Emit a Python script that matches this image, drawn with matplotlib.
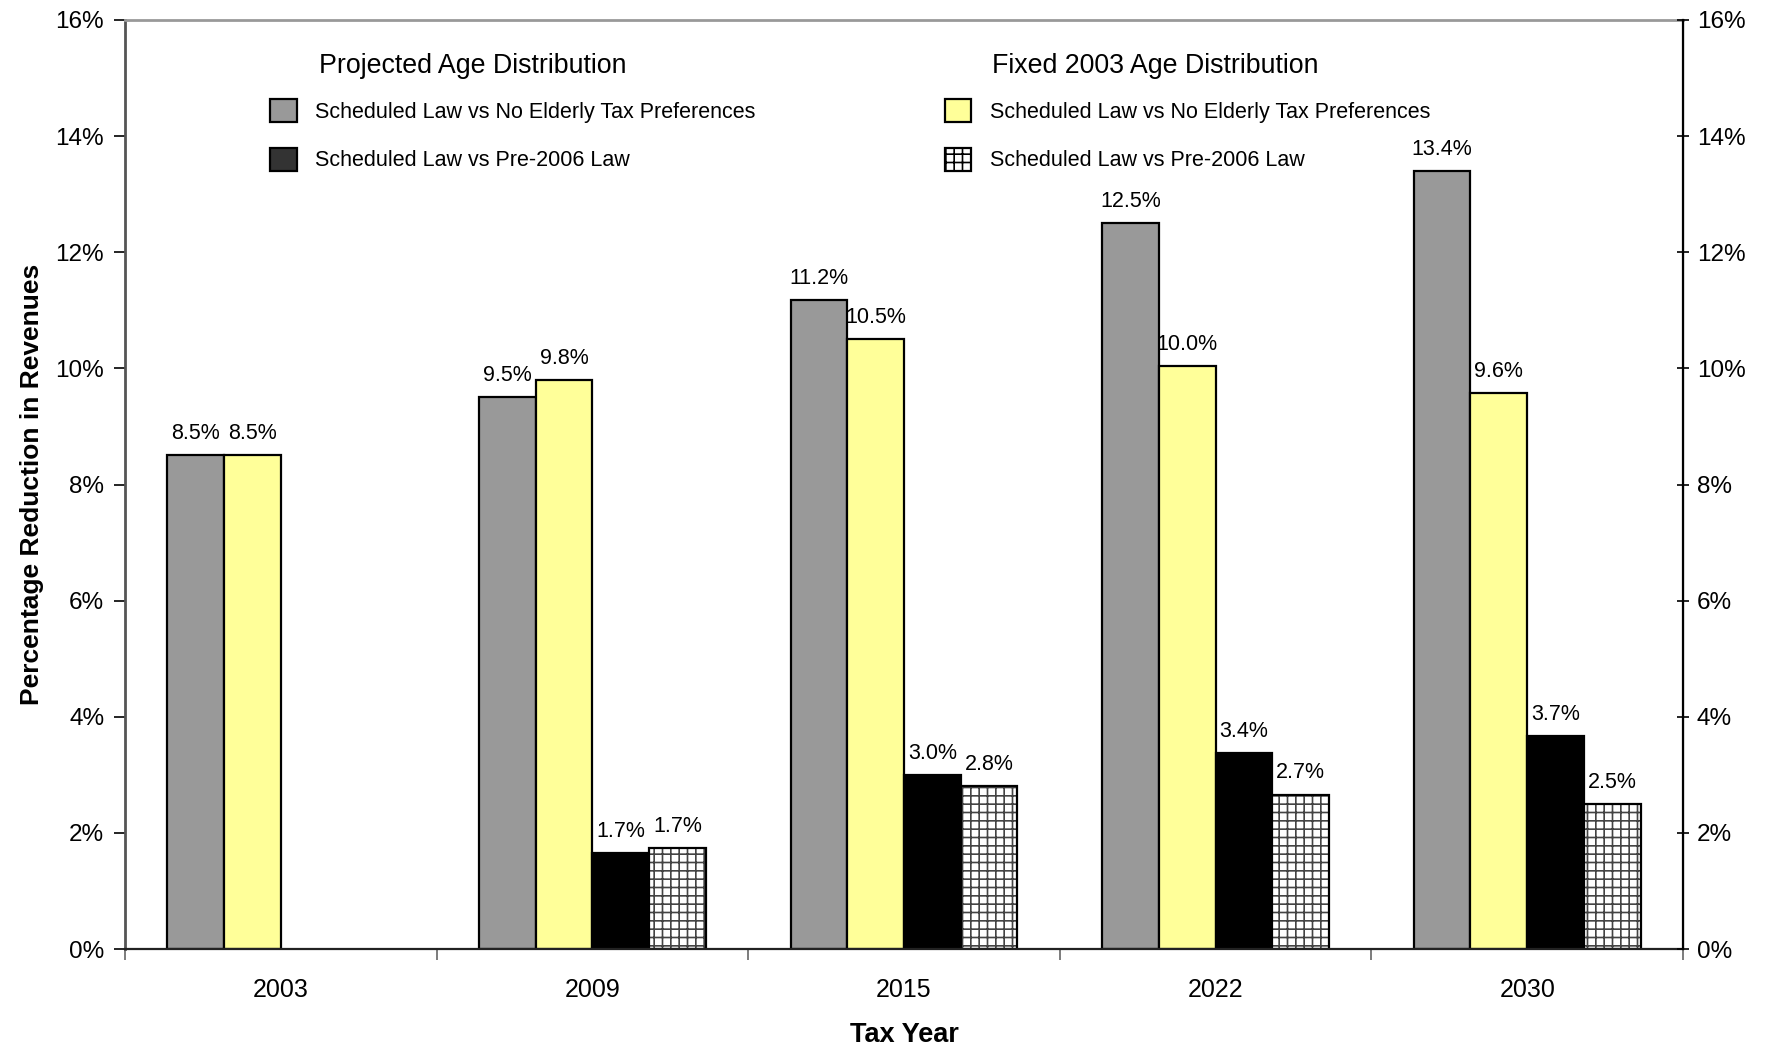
import matplotlib.pyplot as plt
import numpy as np
from matplotlib.patches import Patch
from matplotlib.ticker import FuncFormatter, FixedLocator

plt.rcParams['font.family'] = ['Liberation Sans', 'DejaVu Sans']
plt.rcParams['hatch.linewidth'] = 1.2

years = ['2003', '2009', '2015', '2022', '2030']
proj_no_pref = [8.5, 9.5, 11.17, 12.5, 13.4]
fixed_no_pref = [8.5, 9.8, 10.51, 10.04, 9.57]
proj_pre2006 = [np.nan, 1.66, 2.99, 3.38, 3.67]
fixed_pre2006 = [np.nan, 1.74, 2.81, 2.66, 2.5]

fig = plt.figure(figsize=(17.77, 10.47), dpi=100)
ax = fig.add_axes([125 / 1777, 1 - 949 / 1047, (1683 - 125) / 1777, (949 - 20) / 1047])

x = np.arange(len(years))
w = 0.182
series = [
    (proj_no_pref, '#999999', None),
    (fixed_no_pref, '#FFFF99', None),
    (proj_pre2006, 'black', None),
    (fixed_pre2006, 'white', '++'),
]
for i, (vals, color, hatch) in enumerate(series):
    pos = x + (i - 1.5) * w
    if hatch:
        ax.bar(pos, vals, w, color='white', edgecolor='#444444', hatch=hatch, linewidth=0)
        ax.bar(pos, vals, w, fill=False, edgecolor='black', linewidth=1.6)
    else:
        ax.bar(pos, vals, w, color=color, edgecolor='black', linewidth=1.6)
    for p, v in zip(pos, vals):
        if not np.isnan(v):
            ax.annotate(f'{v:.1f}%', (p, v), xytext=(0, 8), textcoords='offset points',
                        ha='center', va='bottom', fontsize=15.5)

ax.set_xlim(-0.5, len(years) - 0.5)
ax.set_ylim(0, 16)
ax.set_yticks(np.arange(0, 17, 2))
ax.yaxis.set_major_formatter(FuncFormatter(lambda v, _: f'{v:.0f}%'))
ax.tick_params(axis='y', labelsize=17.5, length=8, width=1.2, pad=7)

ax.xaxis.set_major_locator(FixedLocator(np.arange(-0.5, len(years), 1)))
ax.xaxis.set_minor_locator(FixedLocator(x))
ax.set_xticklabels([''] * (len(years) + 1))
ax.set_xticklabels(years, minor=True)
ax.tick_params(axis='x', which='major', length=8, width=1.2, color='#666666')
ax.tick_params(axis='x', which='minor', length=0, labelsize=18, pad=21)

ax2 = ax.twinx()
ax2.set_ylim(0, 16)
ax2.set_yticks(np.arange(0, 17, 2))
ax2.yaxis.set_major_formatter(FuncFormatter(lambda v, _: f'{v:.0f}%'))
ax2.tick_params(axis='y', labelsize=17.5, length=8, width=1.2, direction='inout', pad=6)

ax.spines['top'].set_color('#999999')
ax.spines['top'].set_linewidth(2)
ax.spines['left'].set_color('#555555')
ax.spines['left'].set_linewidth(2)
ax.spines['bottom'].set_color('#222222')
ax.spines['bottom'].set_linewidth(1.6)
ax2.spines['right'].set_color('black')
ax2.spines['right'].set_linewidth(1.6)
for s in ['top', 'left', 'bottom']:
    ax2.spines[s].set_visible(False)

ax.set_ylabel('Percentage Reduction in Revenues', fontsize=19, fontweight='bold', labelpad=8)
ax.set_xlabel('Tax Year', fontsize=19.5, fontweight='bold', labelpad=14)

ax2.text(0.1244, 0.951, 'Projected Age Distribution', transform=ax2.transAxes,
         fontsize=19.3, va='center', ha='left')
ax2.text(0.5566, 0.951, 'Fixed 2003 Age Distribution', transform=ax2.transAxes,
         fontsize=19.3, va='center', ha='left')

leg_kw = dict(frameon=False, loc='upper left', fontsize=15.5, handlelength=1.25,
              handleheight=1.25, handletextpad=0.84, labelspacing=1.17,
              borderpad=0, borderaxespad=0)
h1 = [Patch(facecolor='#999999', edgecolor='black', linewidth=1.6),
      Patch(facecolor='#333333', edgecolor='black', linewidth=1.6)]
h2 = [Patch(facecolor='#FFFF99', edgecolor='black', linewidth=1.6),
      Patch(facecolor='white', edgecolor='black', hatch='++', linewidth=1.6)]
labels = ['Scheduled Law vs No Elderly Tax Preferences', 'Scheduled Law vs Pre-2006 Law']
leg1 = ax2.legend(h1, labels, bbox_to_anchor=(0.0931, 0.915), **leg_kw)
ax2.add_artist(leg1)
ax2.legend(h2, labels, bbox_to_anchor=(0.526, 0.915), **leg_kw)

fig.savefig('out.png', dpi=100)
